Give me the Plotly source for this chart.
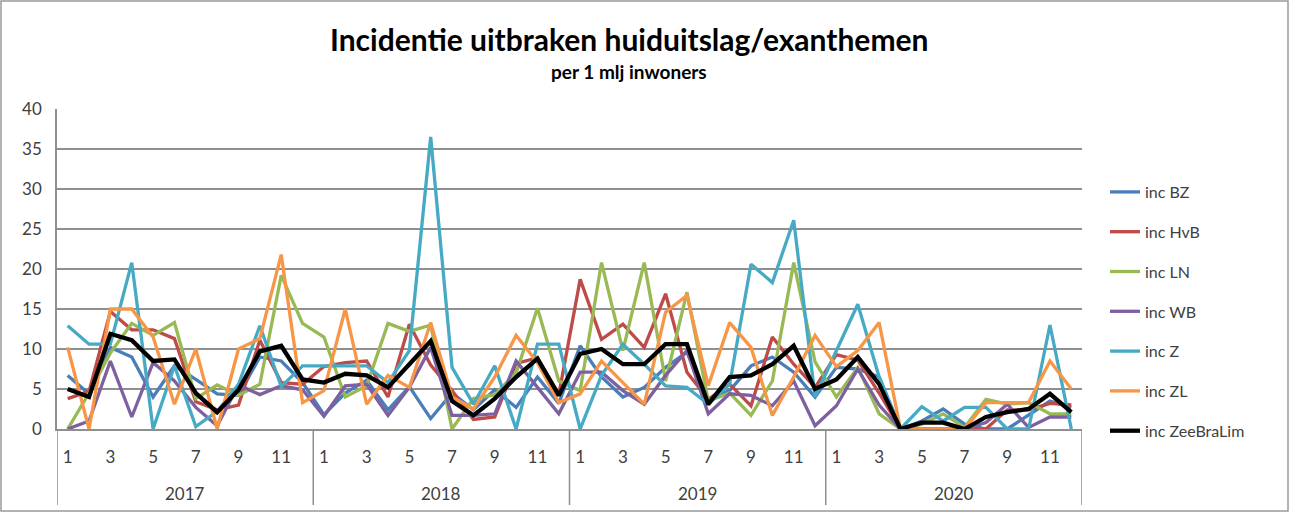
import plotly.graph_objects as go

years = ["2017", "2018", "2019", "2020"]
months = list(range(1, 13))

inc_BZ = [6.7, 4.4, 10.2, 9.0, 4.0, 7.9, 6.2, 4.4, 4.2, 9.0, 8.5, 5.8,
          1.8, 4.5, 6.1, 2.4, 5.3, 1.3, 4.5, 2.4, 4.9, 2.7, 6.5, 3.2,
          10.4, 6.5, 4.0, 5.2, 7.7, 9.6, 3.7, 4.8, 7.9, 9.0, 7.1, 4.0,
          7.7, 7.5, 6.5, 0, 1.0, 2.5, 0.6, 0, 0, 1.7, 3.5, 2.7]
inc_HvB = [3.8, 4.7, 14.7, 12.4, 12.4, 11.3, 3.4, 2.4, 3.0, 11.1, 5.8, 5.6,
           7.8, 8.3, 8.5, 4.0, 13.1, 8.0, 4.8, 1.2, 1.5, 8.2, 8.9, 4.3,
           18.7, 11.2, 13.1, 10.2, 16.9, 7.1, 3.7, 5.6, 2.9, 11.5, 8.1, 5.2,
           9.3, 8.6, 4.5, 0, 0, 0, 0, 0, 2.4, 2.4, 3.2, 3.0]
inc_LN = [0, 4.5, 9.5, 13.2, 11.7, 13.3, 3.8, 5.5, 4.2, 5.6, 19.2, 13.2,
          11.5, 4.0, 5.4, 13.2, 12.2, 13.0, 0, 3.8, 4.3, 7.0, 15.1, 6.0,
          4.8, 20.8, 9.8, 20.8, 6.0, 17.1, 3.5, 4.5, 1.7, 6.0, 20.8, 8.4,
          4.0, 7.7, 1.9, 0, 0.6, 1.9, 0.2, 3.7, 3.1, 3.3, 1.9, 1.9]
inc_WB = [0, 1.0, 8.5, 1.5, 8.3, 6.0, 2.7, 0.4, 5.5, 4.3, 5.4, 4.9,
          1.6, 5.4, 5.6, 1.7, 5.2, 10.2, 1.7, 1.7, 1.9, 8.5, 5.2, 1.9,
          7.1, 7.1, 4.8, 3.1, 6.7, 9.8, 1.9, 4.4, 4.2, 2.9, 6.0, 0.4,
          2.9, 7.5, 3.0, 0, 0, 0, 0, 0.8, 3.1, 0.2, 1.5, 1.5]
inc_Z = [12.9, 10.6, 10.6, 20.8, 0, 7.9, 0.3, 2.2, 5.6, 12.9, 5.3, 7.9,
         7.9, 7.9, 7.9, 5.8, 9.8, 36.5, 7.7, 3.1, 7.9, 0, 10.6, 10.6,
         0, 6.7, 10.6, 8.1, 5.4, 5.2, 3.1, 5.6, 20.6, 18.3, 26.1, 4.0,
         9.8, 15.6, 6.5, 0, 2.8, 1.0, 2.7, 2.7, 0, 0, 13.0, 0]
inc_ZL = [10.2, 0, 15.0, 15.0, 11.5, 3.1, 10.0, 0, 10.0, 11.3, 21.8, 3.3,
          4.8, 15.0, 3.1, 6.7, 5.2, 13.3, 4.0, 2.5, 6.5, 11.7, 8.3, 3.3,
          4.4, 8.5, 5.8, 3.1, 14.6, 16.7, 5.4, 13.3, 10.2, 1.7, 6.5, 11.7,
          7.8, 9.8, 13.3, 0, 0, 0, 0, 3.3, 3.3, 3.3, 8.5, 5.0]
inc_ZeeBraLim = [5.0, 4.0, 11.9, 11.1, 8.5, 8.7, 4.5, 2.1, 4.9, 9.7, 10.4, 6.2,
                 5.8, 6.9, 6.7, 5.2, 8.1, 11.0, 3.5, 1.7, 3.8, 6.5, 8.8, 4.2,
                 9.4, 10.0, 8.1, 8.1, 10.6, 10.6, 3.1, 6.5, 6.7, 8.1, 10.4, 5.0,
                 6.2, 9.0, 5.6, 0, 0.8, 0.8, 0, 1.5, 2.1, 2.5, 4.4, 2.1]

series_names = ["inc BZ", "inc HvB", "inc LN", "inc WB", "inc Z", "inc ZL", "inc ZeeBraLim"]
series_values = [inc_BZ, inc_HvB, inc_LN, inc_WB, inc_Z, inc_ZL, inc_ZeeBraLim]
colors = ["#4a7ebb", "#be4b48", "#98b954", "#7d60a0", "#46aac5", "#f79646", "#000000"]
widths = [3.3, 3.3, 3.3, 3.3, 3.3, 3.3, 4.3]

n = len(years) * len(months)
x_idx = list(range(n))
month_of = [months[i % 12] for i in x_idx]

W, H = 1290, 513
ml, mr, mt, mb = 57, 208, 109, 84
pw, ph = W - ml - mr, H - mt - mb

fig = go.Figure()
for i, (name, vals) in enumerate(zip(series_names, series_values)):
    fig.add_trace(go.Scatter(
        x=x_idx, y=vals, mode="lines", name=name,
        line=dict(color=colors[i], width=widths[i]),
        legendgroup=name,
    ))

grid_col = "#8f8f8f"
txt_col = "#404040"

def py(pix):
    return (H - mb - pix) / ph

def px(pix):
    return (pix - ml) / pw

shapes = []
for k in range(len(years) + 1):
    shapes.append(dict(type="line", xref="x", yref="paper",
                       x0=k * 12 - 0.5, x1=k * 12 - 0.5, y0=0, y1=py(505),
                       line=dict(color=grid_col, width=1.5)))
shapes.append(dict(type="rect", xref="paper", yref="paper",
                   x0=px(1), x1=px(W - 2), y0=py(H - 2), y1=py(1),
                   line=dict(color="#9a9a9a", width=1.5)))

annotations = []
for k, yr in enumerate(years):
    annotations.append(dict(text=yr, xref="x", yref="paper",
                            x=k * 12 + 5.5, y=py(493), showarrow=False,
                            font=dict(family="Lato", size=17, color=txt_col),
                            yanchor="middle"))
annotations.append(dict(text="<b>Incidentie uitbraken huiduitslag/exanthemen</b>",
                        xref="paper", yref="paper", x=px(629), y=py(39),
                        showarrow=False, xanchor="center", yanchor="middle",
                        font=dict(family="Lato", size=30, color="#000000")))
annotations.append(dict(text="<b>per 1 mlj inwoners</b>",
                        xref="paper", yref="paper", x=px(629), y=py(71),
                        showarrow=False, xanchor="center", yanchor="middle",
                        font=dict(family="Lato", size=19, color="#000000")))

tickvals = [i for i in x_idx if month_of[i] % 2 == 1]
ticktext = [str(month_of[i]) for i in tickvals]

fig.update_layout(
    width=W, height=H,
    margin=dict(l=ml, r=mr, t=mt, b=mb, pad=0),
    paper_bgcolor="white", plot_bgcolor="white",
    font=dict(family="Lato", color=txt_col),
    showlegend=True,
    legend=dict(x=px(1105), y=py(175), xanchor="left", yanchor="top",
                font=dict(family="Lato", size=16, color=txt_col),
                tracegroupgap=16, bgcolor="rgba(0,0,0,0)"),
    xaxis=dict(range=[-0.5, n - 0.5], tickmode="array", tickvals=tickvals,
               ticktext=ticktext, showgrid=False, zeroline=False,
               showline=True, linecolor=grid_col, linewidth=1.5,
               ticks="outside", ticklen=0, ticklabelstandoff=12,
               tickfont=dict(family="Lato", size=17, color=txt_col)),
    yaxis=dict(range=[0, 40], dtick=5, showgrid=True, gridcolor=grid_col,
               gridwidth=1.5, zeroline=False, showline=True, linecolor=grid_col,
               linewidth=1.5, ticks="outside", ticklen=0, ticklabelstandoff=10,
               tickfont=dict(family="Lato", size=17, color=txt_col)),
    shapes=shapes, annotations=annotations,
)

fig.write_html("out.html", config={"displayModeBar": False},
               post_script="document.body.style.margin='0';document.body.style.overflow='hidden';")
